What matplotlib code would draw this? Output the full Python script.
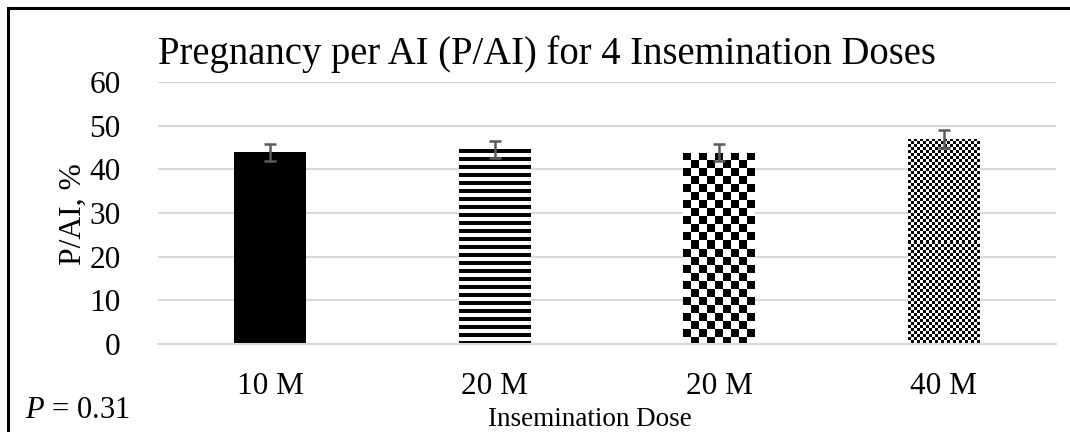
import numpy as np
import matplotlib
matplotlib.use("Agg")
import matplotlib.pyplot as plt
from matplotlib.patches import Rectangle

categories = ["10 M", "20 M", "20 M", "40 M"]
values = [43.9, 44.6, 43.8, 47.0]
errors = [2.0, 2.0, 2.0, 2.0]
yticks = [0, 10, 20, 30, 40, 50, 60]

plt.rcParams['font.family'] = ['Liberation Serif', 'DejaVu Serif']
plt.rcParams['mathtext.fontset'] = 'custom'
plt.rcParams['mathtext.rm'] = 'Liberation Serif'
plt.rcParams['mathtext.it'] = 'Liberation Serif:italic'

W, H, DPI = 10.7, 4.32, 100
fig = plt.figure(figsize=(W, H), dpi=DPI)
ax = fig.add_axes([158 / 1070, 1 - 344 / 432, (1056 - 158) / 1070, (344 - 82) / 432])

x = np.arange(len(categories))
bw = 0.32
bars = ax.bar(x, values, width=bw, color='white', edgecolor='none', zorder=2)
ax.set_xlim(-0.5, len(categories) - 0.5)
ax.set_ylim(0, 60)

fig.canvas.draw()

def texture(bar, kind, cell):
    (x0, y0), (x1, y1) = ax.transData.transform([(bar.get_x(), 0),
                                                  (bar.get_x() + bar.get_width(), bar.get_height())])
    wpx = int(round(x1 - x0)); hpx = int(round(y1 - y0))
    yy, xx = np.mgrid[0:hpx, 0:wpx]
    yy = hpx - 1 - yy  # pattern anchored at top of bar
    if kind == 'solid':
        img = np.zeros((hpx, wpx))
    elif kind == 'hstripe':
        img = ((yy // cell) % 2).astype(float)
    else:
        img = (((yy // cell) + (xx // cell)) % 2).astype(float)
    im = ax.imshow(img, cmap='gray', vmin=0, vmax=1, interpolation='nearest',
                   extent=(bar.get_x(), bar.get_x() + bar.get_width(), 0, bar.get_height()),
                   origin='lower', aspect='auto', zorder=2)
    im.set_clip_path(bar)

kinds = [('solid', 1), ('hstripe', 4), ('check', 8), ('check', 3)]
for b, (k, c) in zip(bars, kinds):
    texture(b, k, c)

ax.errorbar(x, values, yerr=errors, fmt='none', ecolor='#5a5a5a', elinewidth=1.8,
            capsize=4.3, capthick=1.8, zorder=3)

ax.set_yticks(yticks)
ax.set_xticks(x)
ax.set_xticklabels(categories)
ax.tick_params(axis='both', length=0, labelsize=22.5, colors='black')
ax.tick_params(axis='y', pad=27)
ax.tick_params(axis='x', pad=20)
ax.grid(axis='y', color='#d9d9d9', linewidth=1.5, zorder=0)
ax.set_axisbelow(True)
for s in ['top', 'right', 'left']:
    ax.spines[s].set_visible(False)
ax.spines['bottom'].set_color('#d9d9d9')
ax.spines['bottom'].set_linewidth(1.5)

fig.text(158 / 1070, 1 - 54 / 432, "Pregnancy per AI (P/AI) for 4 Insemination Doses",
         fontsize=27.8, ha='left', va='center')
fig.text(73 / 1070, 1 - 214 / 432, "P/AI, %", fontsize=22.8, rotation=90, ha='center', va='center')
fig.text(590 / 1070, 1 - 419 / 432, "Insemination Dose", fontsize=19.5, ha='center', va='center')
fig.text(25 / 1070, 1 - 411 / 432, r"$\mathit{P}$ = 0.31", fontsize=22, ha='left', va='center')

fig.add_artist(Rectangle((7.5 / 1070, -0.05), 1.2, 1 - 7.5 / 432 + 0.05, transform=fig.transFigure,
                         fill=False, edgecolor='black', linewidth=2.2))

fig.savefig("out.png", dpi=DPI)
